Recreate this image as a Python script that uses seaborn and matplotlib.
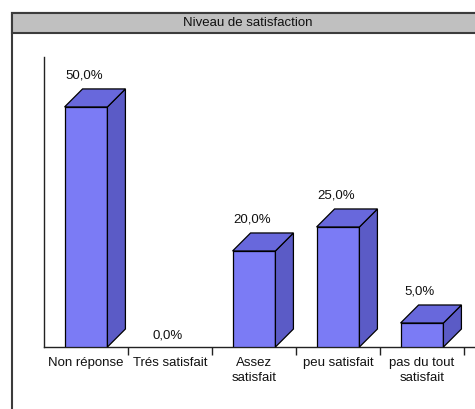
import matplotlib
matplotlib.use("Agg")
import matplotlib.pyplot as plt
from matplotlib.patches import Polygon, Rectangle
import seaborn as sns
import pandas as pd

# Survey results: satisfaction level (share of answers, %)
categories = ["Non réponse", "Trés satisfait", "Assez\nsatisfait", "peu satisfait", "pas du tout\nsatisfait"]
values = [50.0, 0.0, 20.0, 25.0, 5.0]
value_labels = ["50,0%", "0,0%", "20,0%", "25,0%", "5,0%"]
title = "Niveau de satisfaction"

FRONT = "#7b7bf5"
TOP = "#6868dc"
SIDE = "#5b5bc6"
EDGE = "#000000"
FS = 9.5

sns.set_theme(style="white")
plt.rcParams["font.family"] = ["Liberation Sans", "DejaVu Sans"]

W, H = 475, 409
fig = plt.figure(figsize=(W / 100, H / 100), dpi=100)
fig.patch.set_facecolor("white")

# outer frame with grey title band
def fx(px):
    return px / W

def fy(py):
    return 1 - py / H

fig.add_artist(Rectangle((fx(12), fy(440)), fx(500) - fx(12), fy(13) - fy(440),
                         transform=fig.transFigure, facecolor="white",
                         edgecolor="#3c3c3c", linewidth=1.5, zorder=0))
fig.add_artist(Rectangle((fx(12), fy(33)), fx(500) - fx(12), fy(13) - fy(33),
                         transform=fig.transFigure, facecolor="#c0c0c0",
                         edgecolor="#3c3c3c", linewidth=1.5, zorder=1))
fig.text(fx(248), fy(23), title, ha="center", va="center", fontsize=FS, color="#111111")

# plotting area
ax_left, ax_right, ax_top, ax_bottom = 44, 475, 57, 347
ax = fig.add_axes([fx(ax_left), fy(ax_bottom), fx(ax_right) - fx(ax_left), fy(ax_top) - fy(ax_bottom)])
ax.set_facecolor("none")

df = pd.DataFrame({"cat": categories, "val": values})
sns.barplot(data=df, x="cat", y="val", color=FRONT, saturation=1, width=0.51,
            edgecolor=EDGE, linewidth=0.9, ax=ax, zorder=3)

xmin, xmax = -0.5, -0.5 + (ax_right - ax_left) / 84
ymax = 60.4
ax.set_xlim(xmin, xmax)
ax.set_ylim(0, ymax)

# 3D depth: pixel offset converted to data units
depth_px = 18
dx = depth_px * (xmax - xmin) / (ax_right - ax_left)
dy = depth_px * ymax / (ax_bottom - ax_top)

for patch, v, lab in zip(ax.patches, values, value_labels):
    x0 = patch.get_x()
    x1 = x0 + patch.get_width()
    xc = (x0 + x1) / 2
    if v > 0:
        top = Polygon([(x0, v), (x1, v), (x1 + dx, v + dy), (x0 + dx, v + dy)],
                      closed=True, facecolor=TOP, edgecolor=EDGE, linewidth=0.9,
                      zorder=3, clip_on=False)
        side = Polygon([(x1, 0), (x1 + dx, dy), (x1 + dx, v + dy), (x1, v)],
                       closed=True, facecolor=SIDE, edgecolor=EDGE, linewidth=0.9,
                       zorder=3, clip_on=False)
        ax.add_patch(side)
        ax.add_patch(top)
        off = 31
    else:
        patch.set_visible(False)
        off = 11
    ax.annotate(lab, (xc, v), xytext=(-1.5, off * 72 / 100), textcoords="offset points",
                ha="center", va="center", fontsize=FS, color="#111111")

# axes styling
for s in ["top", "right"]:
    ax.spines[s].set_visible(False)
ax.spines["left"].set_color("#222222")
ax.spines["bottom"].set_color("#222222")
ax.spines["left"].set_linewidth(1)
ax.spines["bottom"].set_linewidth(1)
ax.set_yticks([])
ax.set_xlabel("")
ax.set_ylabel("")
ax.set_xticks(range(len(categories)))
ax.set_xticklabels(categories, fontsize=FS, color="#111111", linespacing=1.25)
ax.tick_params(axis="x", which="major", length=0, pad=7.5)
ax.set_xticks([i + 0.5 for i in range(len(categories))], minor=True)
ax.tick_params(axis="x", which="minor", length=5.5, width=1, color="#222222",
               direction="out", bottom=True)

fig.savefig("out.png", dpi=100)
